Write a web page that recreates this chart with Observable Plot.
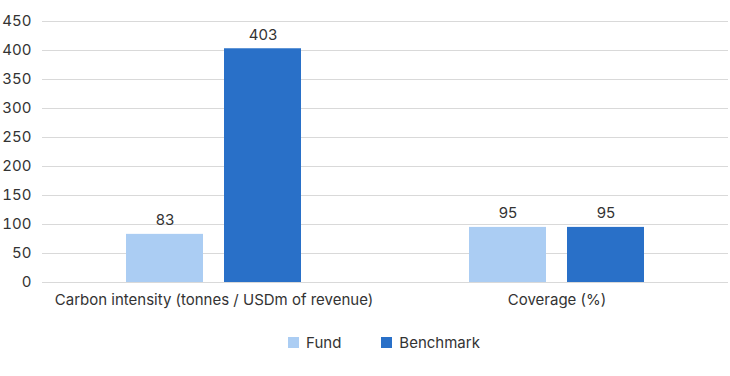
<!DOCTYPE html>
<html>
<head>
<meta charset="utf-8">
<script src="https://cdn.jsdelivr.net/npm/d3@7"></script>
<script src="https://cdn.jsdelivr.net/npm/@observablehq/plot@0.6"></script>
<style>
  html, body { margin: 0; padding: 0; background: #fff; }
  body { width: 730px; font-family: Inter, "Open Sans", sans-serif; color: #333; }
  #legend { display: flex; justify-content: center; gap: 40px; font-size: 15px; padding-left: 38px; margin-top: 15px; }
  #legend .item { display: flex; align-items: center; gap: 7px; }
  #legend .sw { width: 11px; height: 11px; display: inline-block; }
</style>
</head>
<body>
<div id="chart"></div>
<div id="legend"></div>
<script>
const categories = ["Carbon intensity (tonnes / USDm of revenue)", "Coverage (%)"];
const series = ["Fund", "Benchmark"];
const fundValues = [83, 95];
const benchmarkValues = [403, 95];
const yTicks = [0, 50, 100, 150, 200, 250, 300, 350, 400, 450];
const colors = ["#abcdf3", "#2970c8"];

const data = [];
categories.forEach((c, i) => {
  data.push({category: c, series: "Fund", value: fundValues[i]});
  data.push({category: c, series: "Benchmark", value: benchmarkValues[i]});
});

const chart = Plot.plot({
  width: 730,
  height: 318,
  marginTop: 21,
  marginBottom: 36,
  marginLeft: 42,
  marginRight: 2,
  style: {fontFamily: "Inter, 'Open Sans', sans-serif", fontSize: "15px", color: "#333", background: "#fff"},
  fx: {domain: categories, padding: 0, label: null, axis: "bottom", tickSize: 0, tickPadding: 12},
  x: {domain: series, axis: null, paddingInner: 0.2143, paddingOuter: 0.857},
  y: {domain: [0, 450], ticks: yTicks, tickSize: 0, tickPadding: 11, label: null, grid: false},
  color: {domain: series, range: colors},
  marks: [
    Plot.ruleY(yTicks, {stroke: "#d9d9d9", strokeWidth: 1}),
    Plot.barY(data, {fx: "category", x: "series", y: "value", fill: "series"}),
    Plot.text(data, {fx: "category", x: "series", y: "value", text: d => String(d.value), dy: -14, fill: "#333", fontSize: 15})
  ]
});
document.getElementById("chart").appendChild(chart);

const legend = document.getElementById("legend");
series.forEach((s, i) => {
  const item = document.createElement("div");
  item.className = "item";
  const sw = document.createElement("span");
  sw.className = "sw";
  sw.style.background = colors[i];
  const t = document.createElement("span");
  t.textContent = s;
  item.appendChild(sw);
  item.appendChild(t);
  legend.appendChild(item);
});
</script>
</body>
</html>
